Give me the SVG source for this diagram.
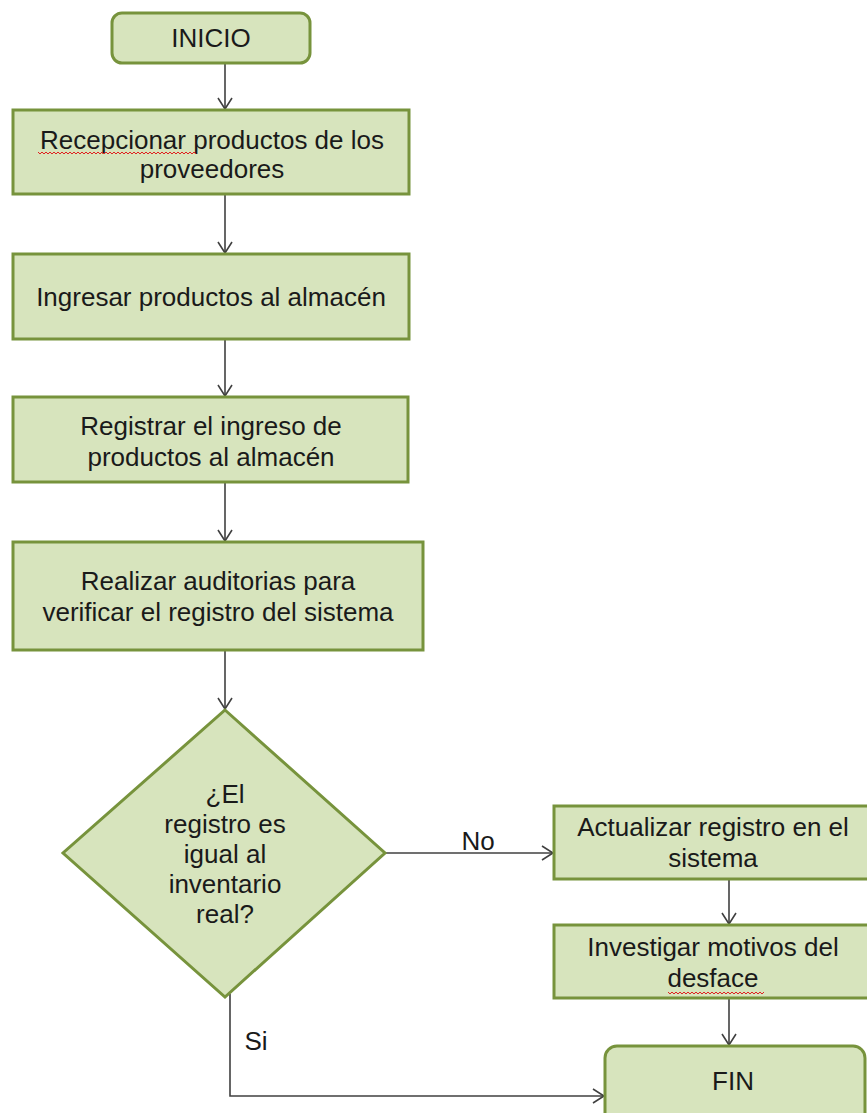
<svg xmlns="http://www.w3.org/2000/svg" width="867" height="1113" viewBox="0 0 867 1113">
  <style>
    .box { fill: #D7E4BD; stroke: #77933C; stroke-width: 3; }
    .lbl { font-family: "Liberation Sans", Arial, sans-serif; font-size: 26px; fill: #1a1a1a; text-anchor: middle; }
    .edge { fill: none; stroke: #404040; stroke-width: 1.6; }
    .squig { fill: none; stroke: #e02020; stroke-width: 1; }
  </style>
  <defs>
    <marker id="arrow" viewBox="0 0 16 16" refX="13" refY="8" markerWidth="16" markerHeight="16" markerUnits="userSpaceOnUse" orient="auto">
      <path d="M2,1 L13,8 L2,15" fill="none" stroke="#404040" stroke-width="1.6"/>
    </marker>
  </defs>
  <rect width="867" height="1113" fill="#ffffff"/>

  <g id="connectors">
    <path class="edge" d="M225,63 V109" marker-end="url(#arrow)"/>
    <path class="edge" d="M225,195 V253" marker-end="url(#arrow)"/>
    <path class="edge" d="M225,340 V396" marker-end="url(#arrow)"/>
    <path class="edge" d="M225,483 V541" marker-end="url(#arrow)"/>
    <path class="edge" d="M225,651 V709" marker-end="url(#arrow)"/>
    <path class="edge" d="M385,853 H553" marker-end="url(#arrow)"/>
    <path class="edge" d="M729,880 V924" marker-end="url(#arrow)"/>
    <path class="edge" d="M729,999 V1045" marker-end="url(#arrow)"/>
    <path class="edge" d="M230,994 V1096 H604" marker-end="url(#arrow)"/>
    <text class="lbl" x="478" y="850">No</text>
    <text class="lbl" x="256" y="1050">Si</text>
  </g>

  <g id="inicio">
    <rect class="box" x="112" y="13" width="198" height="50" rx="10"/>
    <text class="lbl" x="211" y="47">INICIO</text>
  </g>

  <g id="recepcionar">
    <rect class="box" x="13" y="110" width="396" height="84"/>
    <text class="lbl" x="212" y="149">Recepcionar productos de los</text>
    <text class="lbl" x="212" y="178">proveedores</text>
    <path class="squig" d="M38,152 l2,2 l2,-2 l2,2 l2,-2 l2,2 l2,-2 l2,2 l2,-2 l2,2 l2,-2 l2,2 l2,-2 l2,2 l2,-2 l2,2 l2,-2 l2,2 l2,-2 l2,2 l2,-2 l2,2 l2,-2 l2,2 l2,-2 l2,2 l2,-2 l2,2 l2,-2 l2,2 l2,-2 l2,2 l2,-2 l2,2 l2,-2 l2,2 l2,-2 l2,2 l2,-2 l2,2 l2,-2 l2,2 l2,-2 l2,2 l2,-2 l2,2 l2,-2 l2,2 l2,-2 l2,2 l2,-2 l2,2 l2,-2 l2,2 l2,-2 l2,2 l2,-2 l2,2 l2,-2 l2,2 l2,-2 l2,2 l2,-2 l2,2 l2,-2 l2,2 l2,-2 l2,2 l2,-2 l2,2 l2,-2 l2,2 l2,-2 l2,2 l2,-2 l2,2 l2,-2 l2,2 l2,-2 l2,2"/>
  </g>

  <g id="ingresar">
    <rect class="box" x="13" y="254" width="396" height="85"/>
    <text class="lbl" x="211" y="306">Ingresar productos al almacén</text>
  </g>

  <g id="registrar">
    <rect class="box" x="13" y="397" width="395" height="85"/>
    <text class="lbl" x="211" y="435">Registrar el ingreso de</text>
    <text class="lbl" x="211" y="466">productos al almacén</text>
  </g>

  <g id="auditorias">
    <rect class="box" x="13" y="542" width="410" height="108"/>
    <text class="lbl" x="218" y="590">Realizar auditorias para</text>
    <text class="lbl" x="218" y="621">verificar el registro del sistema</text>
  </g>

  <g id="decision">
    <polygon class="box" points="225,710 385,853 225,997 63,853"/>
    <text class="lbl" x="225" y="803">¿El</text>
    <text class="lbl" x="225" y="833">registro es</text>
    <text class="lbl" x="225" y="863">igual al</text>
    <text class="lbl" x="225" y="893">inventario</text>
    <text class="lbl" x="225" y="923">real?</text>
  </g>

  <g id="actualizar">
    <rect class="box" x="554" y="806" width="318" height="73"/>
    <text class="lbl" x="713" y="836">Actualizar registro en el</text>
    <text class="lbl" x="713" y="867">sistema</text>
  </g>

  <g id="investigar">
    <rect class="box" x="554" y="925" width="318" height="73"/>
    <text class="lbl" x="713" y="956">Investigar motivos del</text>
    <text class="lbl" x="713" y="987">desface</text>
    <path class="squig" d="M668,992 l2,2 l2,-2 l2,2 l2,-2 l2,2 l2,-2 l2,2 l2,-2 l2,2 l2,-2 l2,2 l2,-2 l2,2 l2,-2 l2,2 l2,-2 l2,2 l2,-2 l2,2 l2,-2 l2,2 l2,-2 l2,2 l2,-2 l2,2 l2,-2 l2,2 l2,-2 l2,2 l2,-2 l2,2 l2,-2 l2,2 l2,-2 l2,2 l2,-2 l2,2 l2,-2 l2,2 l2,-2 l2,2 l2,-2 l2,2 l2,-2 l2,2 l2,-2 l2,2 l2,-2"/>
  </g>

  <g id="fin">
    <rect class="box" x="605" y="1046" width="260" height="80" rx="12"/>
    <text class="lbl" x="733" y="1090">FIN</text>
  </g>
</svg>
